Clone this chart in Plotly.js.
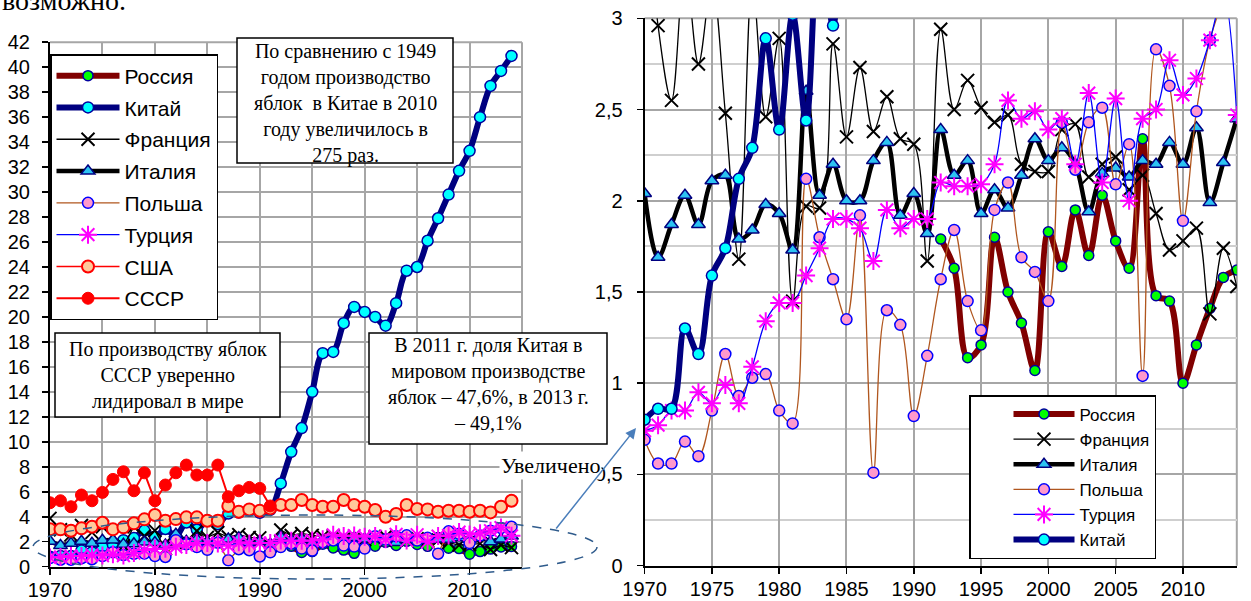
<!DOCTYPE html>
<html><head><meta charset="utf-8">
<script src="https://cdn.plot.ly/plotly-3.0.1.min.js"></script>
<style>html,body{margin:0;padding:0;background:#fff;}#chart{width:1251px;height:601px;}</style>
</head><body><div id="chart"></div>
<script>
// ---------------- data (млн т) ----------------
const years = [1970,1971,1972,1973,1974,1975,1976,1977,1978,1979,1980,1981,1982,1983,1984,1985,1986,1987,1988,1989,1990,1991,1992,1993,1994,1995,1996,1997,1998,1999,2000,2001,2002,2003,2004,2005,2006,2007,2008,2009,2010,2011,2012,2013,2014];
const yearsRussia = [1992,1993,1994,1995,1996,1997,1998,1999,2000,2001,2002,2003,2004,2005,2006,2007,2008,2009,2010,2011,2012,2013,2014];
const yearsUSSR = [1970,1971,1972,1973,1974,1975,1976,1977,1978,1979,1980,1981,1982,1983,1984,1985,1986,1987,1988,1989,1990,1991];

const russia = [1.79,1.63,1.14,1.21,1.80,1.50,1.33,1.07,1.83,1.64,1.95,1.70,2.03,1.78,1.63,2.34,1.48,1.45,1.00,1.21,1.41,1.58,1.62];
const china  = [0.80,0.86,0.86,1.30,1.16,1.59,1.74,2.12,2.29,2.89,2.39,3.02,2.44,3.54,2.96,3.70,3.40,4.26,4.34,4.50,4.32,4.55,6.67,9.20,11.1,14.0,17.1,17.2,19.5,20.8,20.4,20.0,19.3,21.1,23.7,24.0,26.1,27.9,29.8,31.7,33.3,36.0,38.5,39.7,40.9];
const france = [3.87,2.96,2.55,3.30,2.75,3.20,2.48,1.68,3.20,2.46,2.89,1.45,1.97,1.96,2.86,2.35,2.73,2.38,2.57,2.34,2.31,1.67,2.94,2.50,2.66,2.51,2.43,2.47,2.20,2.16,2.16,2.39,2.42,2.13,2.20,2.24,2.06,2.14,1.93,1.73,1.78,1.85,1.38,1.74,1.53];
const italy  = [2.04,1.69,1.87,2.03,1.87,2.11,2.14,1.79,1.84,1.98,1.93,1.73,2.60,2.03,2.20,2.00,2.00,2.22,2.32,1.92,2.04,1.82,2.39,2.14,2.22,1.93,2.06,1.96,2.14,2.34,2.22,2.29,2.20,1.94,2.15,2.18,2.13,2.22,2.20,2.32,2.20,2.40,1.99,2.21,2.45];
const poland = [0.69,0.56,0.56,0.68,0.60,0.85,1.16,0.93,1.03,1.05,0.85,0.78,2.12,1.80,1.57,1.35,1.92,0.51,1.40,1.32,0.82,1.15,1.57,1.84,1.45,1.29,1.95,2.10,1.69,1.61,1.45,2.43,2.17,2.43,2.51,2.09,2.31,1.04,2.83,2.63,1.89,2.49,2.88,3.09,3.20];
const turkey = [0.74,0.77,0.85,0.85,0.95,0.89,0.99,0.89,1.09,1.34,1.44,1.44,1.59,1.74,1.90,1.90,1.85,1.67,1.95,1.85,1.90,1.90,2.10,2.08,2.08,2.09,2.20,2.55,2.45,2.49,2.39,2.45,2.20,2.59,2.10,2.56,2.00,2.45,2.50,2.77,2.58,2.67,2.88,3.13,2.47];
const usa    = [2.99,2.99,2.88,3.07,3.20,3.52,2.99,3.15,3.47,3.79,4.14,3.68,3.81,3.95,3.95,3.68,3.68,4.86,4.40,4.59,4.48,4.67,4.94,4.94,5.34,4.94,4.80,4.80,5.34,4.94,4.80,4.54,4.00,4.22,4.94,4.62,4.59,4.40,4.48,4.48,4.40,4.48,4.35,4.80,5.28];
const ussr   = [5.12,5.28,4.80,5.74,5.28,5.95,6.99,7.60,6.08,7.52,5.28,6.54,7.52,8.14,7.34,7.34,8.14,5.60,6.08,6.35,6.27,4.86];

const leftTicks = [0,2,4,6,8,10,12,14,16,18,20,22,24,26,28,30,32,34,36,38,40,42];

// ---------------- helpers ----------------
const W = 1251, H = 601;
const fx = p => p / W;
const fy = p => 1 - p / H;

// styles
const S = {
  russia: {line:{color:'#800000',width:6}, marker:{symbol:'circle',size:10,color:'#00FF00',line:{color:'#0000A0',width:1.5}}},
  china:  {line:{color:'#000080',width:6}, marker:{symbol:'circle',size:11,color:'#00FFFF',line:{color:'#0000A0',width:1.5}}},
  france: {line:{color:'#000000',width:1.3}, marker:{symbol:'x-thin-open',size:13,color:'#000000',line:{color:'#000000',width:2}}},
  italy:  {line:{color:'#000000',width:4.5}, marker:{symbol:'triangle-up',size:12,color:'#2CC3F2',line:{color:'#000080',width:1.5}}},
  poland: {line:{color:'#B0561E',width:1.3}, marker:{symbol:'circle',size:11,color:'#FF99CC',line:{color:'#0000FF',width:1.5}}},
  turkey: {line:{color:'#0000FF',width:1.3}, marker:{symbol:'asterisk-open',size:15,color:'#FF00FF',line:{color:'#FF00FF',width:2}}},
  usa:    {line:{color:'#FF0000',width:1.5}, marker:{symbol:'circle',size:12,color:'#FFC99B',line:{color:'#FF0000',width:2}}},
  ussr:   {line:{color:'#FF0000',width:2}, marker:{symbol:'circle',size:12,color:'#FF0000',line:{color:'#FF0000',width:1}}}
};

function tr(name, x, y, st, side, shape){
  const left = side === 'L';
  return {
    type:'scatter', mode:'lines+markers', name:name, x:x, y:y,
    xaxis: left ? 'x' : 'x2', yaxis: left ? 'y' : 'y2',
    legend: left ? 'legend' : 'legend2',
    legendgroup: (left ? 'L_' : 'R_') + name,
    line: Object.assign({shape: shape, smoothing: 1}, st.line),
    marker: st.marker,
    hoverinfo:'x+y+name'
  };
}

const traces = [
  // left panel (full scale)
  tr('Россия', yearsRussia, russia, S.russia, 'L', 'linear'),
  tr('Китай', years, china, S.china, 'L', 'spline'),
  tr('Франция', years, france, S.france, 'L', 'linear'),
  tr('Италия', years, italy, S.italy, 'L', 'linear'),
  tr('Польша', years, poland, S.poland, 'L', 'linear'),
  tr('Турция', years, turkey, S.turkey, 'L', 'linear'),
  tr('США', years, usa, S.usa, 'L', 'linear'),
  tr('СССР', yearsUSSR, ussr, S.ussr, 'L', 'linear'),
  // right panel (zoomed)
  tr('Россия', yearsRussia, russia, S.russia, 'R', 'spline'),
  tr('Франция', years, france, S.france, 'R', 'spline'),
  tr('Италия', years, italy, S.italy, 'R', 'spline'),
  tr('Польша', years, poland, S.poland, 'R', 'spline'),
  tr('Турция', years, turkey, S.turkey, 'R', 'spline'),
  tr('Китай', years, china, S.china, 'R', 'spline')
];

const GRID = '#A6A6A6';
const tickFont = {family:'Liberation Sans, Arial, sans-serif', size:20, color:'#000'};
const axBase = {
  showline:true, linecolor:'#000', linewidth:2, ticks:'outside', ticklen:6, tickwidth:1.5, tickcolor:'#000',
  tickfont: tickFont, zeroline:false, showgrid:true, gridcolor:GRID, gridwidth:2, fixedrange:true
};

const serif = 'Liberation Serif, Times New Roman, serif';
const layout = {
  width:W, height:H, margin:{l:0,r:0,t:0,b:0},
  paper_bgcolor:'#fff', plot_bgcolor:'#fff',
  separators:', ',
  showlegend:true,
  xaxis: Object.assign({}, axBase, {domain:[fx(50), fx(522)], range:[1970,2015], anchor:'y',
    tick0:1970, dtick:10, ticklabelstandoff:-2,
    minor:{tick0:1970, dtick:5, showgrid:true, gridcolor:GRID, gridwidth:2}}),
  yaxis: Object.assign({}, axBase, {domain:[fy(566.7), fy(42.2)], range:[0,42], anchor:'x',
    tickvals:leftTicks, ticklabelstandoff:8}),
  xaxis2: Object.assign({}, axBase, {domain:[fx(644.6), fx(1236.8)], range:[1970,2014], anchor:'y2',
    tick0:1970, dtick:5, ticklabelstandoff:-2}),
  yaxis2: Object.assign({}, axBase, {domain:[fy(565.7), fy(18.3)], range:[0,3], anchor:'x2',
    tick0:0, dtick:0.5, ticklabelstandoff:10,
    minor:{tick0:0, dtick:0.25, showgrid:true, gridcolor:'#CFCFCF', gridwidth:2}}),
  legend: {x:fx(50), y:fy(54), xanchor:'left', yanchor:'top', bgcolor:'#fff', bordercolor:'#000', borderwidth:1.5,
    font:{family:'Liberation Sans, Arial, sans-serif', size:21, color:'#000'},
    itemwidth:63, traceorder:'grouped', tracegroupgap:1.5, itemclick:false, itemdoubleclick:false},
  legend2: {x:fx(969), y:fy(395), xanchor:'left', yanchor:'top', bgcolor:'#fff', bordercolor:'#000', borderwidth:1.5,
    font:{family:'Liberation Sans, Arial, sans-serif', size:17, color:'#000'},
    itemwidth:61, traceorder:'grouped', tracegroupgap:0, indentation:38, itemclick:false, itemdoubleclick:false},
  shapes: [
    // grey borders at top/right of each plot area
    {type:'line', xref:'x domain', yref:'y domain', x0:0, x1:1, y0:1, y1:1, line:{color:GRID, width:2}, layer:'below'},
    {type:'line', xref:'x domain', yref:'y domain', x0:1, x1:1, y0:0, y1:1, line:{color:GRID, width:2}, layer:'below'},
    {type:'line', xref:'x2 domain', yref:'y2 domain', x0:0, x1:1, y0:1, y1:1, line:{color:GRID, width:2}, layer:'below'},
    {type:'line', xref:'x2 domain', yref:'y2 domain', x0:1, x1:1, y0:0, y1:1, line:{color:GRID, width:2}, layer:'below'},
    // text boxes
    {type:'rect', xref:'paper', yref:'paper', x0:fx(237), x1:fx(453), y0:fy(163), y1:fy(38), fillcolor:'#fff', line:{color:'#000', width:1.5}, layer:'above'},
    {type:'rect', xref:'paper', yref:'paper', x0:fx(55), x1:fx(280), y0:fy(417), y1:fy(333), fillcolor:'#fff', line:{color:'#000', width:1.5}, layer:'above'},
    {type:'rect', xref:'paper', yref:'paper', x0:fx(369), x1:fx(607), y0:fy(444), y1:fy(333), fillcolor:'#fff', line:{color:'#000', width:1.5}, layer:'above'},
    // dashed ellipse
    {type:'circle', xref:'paper', yref:'paper', x0:fx(33), x1:fx(597), y0:fy(579), y1:fy(515), line:{color:'#2F5B8C', width:1.5, dash:'dash'}, layer:'above'}
  ],
  annotations: [
    {xref:'paper', yref:'paper', x:0, y:fy(18), xanchor:'left', yanchor:'bottom', showarrow:false,
     text:'возможно.', font:{family:serif, size:28, color:'#000'}},
    {xref:'paper', yref:'paper', x:fx(345), y:fy(103.5), xanchor:'center', yanchor:'middle', showarrow:false, align:'center',
     text:'По сравнению с 1949<br>годом производство<br>яблок  в Китае в 2010<br>году увеличилось в<br>275 раз.',
     font:{family:serif, size:20, color:'#000'}},
    {xref:'paper', yref:'paper', x:fx(167.5), y:fy(375), xanchor:'center', yanchor:'middle', showarrow:false, align:'center',
     text:'По производству яблок<br>СССР уверенно<br>лидировал в мире',
     font:{family:serif, size:20, color:'#000'}},
    {xref:'paper', yref:'paper', x:fx(488), y:fy(384), xanchor:'center', yanchor:'middle', showarrow:false, align:'center',
     text:'В 2011 г. доля Китая в<br>мировом производстве<br>яблок – 47,6%, в 2013 г.<br>– 49,1%',
     font:{family:serif, size:20, color:'#000'}},
    {xref:'paper', yref:'paper', x:fx(602), y:fy(465), xanchor:'right', yanchor:'middle', showarrow:false,
     text:'Увеличено', bgcolor:'#fff', font:{family:serif, size:22, color:'#000'}},
    {xref:'paper', yref:'paper', x:fx(636), y:fy(428), axref:'pixel', ayref:'pixel', ax:-81, ay:102,
     showarrow:true, arrowhead:2, arrowsize:1.4, arrowwidth:1.5, arrowcolor:'#4A7EBB', text:''}
  ]
};

Plotly.newPlot('chart', traces, layout, {displayModeBar:false, staticPlot:true});
</script>
</body></html>
